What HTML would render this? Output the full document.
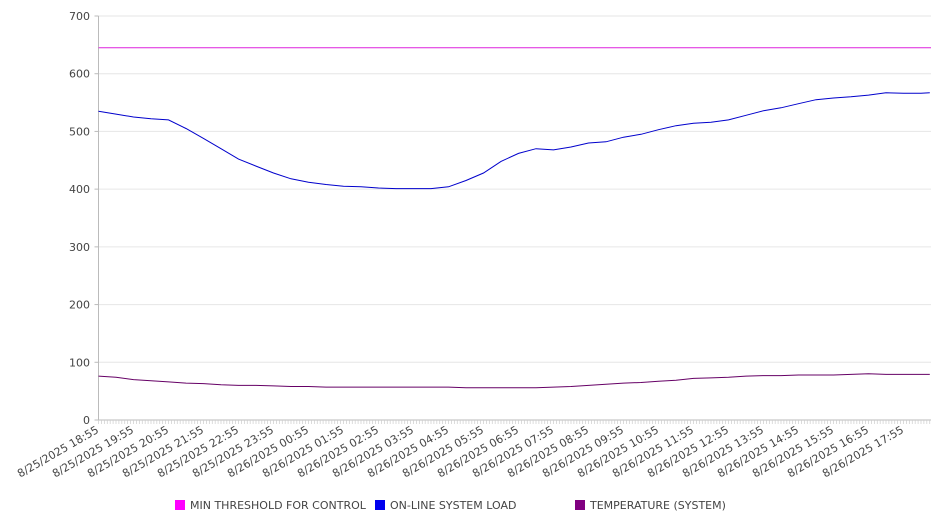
<!DOCTYPE html>
<html><head><meta charset="utf-8"><style>
body{margin:0;background:#fff;font-family:"DejaVu Sans","Liberation Sans",sans-serif;}
svg text{font-family:"DejaVu Sans","Liberation Sans",sans-serif;fill:#444;}
</style></head><body>
<svg id="chart" width="946" height="526" xmlns="http://www.w3.org/2000/svg"></svg>
<script>
const hourLabels=["8/25/2025 18:55","8/25/2025 19:55","8/25/2025 20:55","8/25/2025 21:55","8/25/2025 22:55","8/25/2025 23:55","8/26/2025 00:55","8/26/2025 01:55","8/26/2025 02:55","8/26/2025 03:55","8/26/2025 04:55","8/26/2025 05:55","8/26/2025 06:55","8/26/2025 07:55","8/26/2025 08:55","8/26/2025 09:55","8/26/2025 10:55","8/26/2025 11:55","8/26/2025 12:55","8/26/2025 13:55","8/26/2025 14:55","8/26/2025 15:55","8/26/2025 16:55","8/26/2025 17:55"];
const yTicks=[0,100,200,300,400,500,600,700];
const sampleHours=[0,0.5,1,1.5,2,2.5,3,3.5,4,4.5,5,5.5,6,6.5,7,7.5,8,8.5,9,9.5,10,10.5,11,11.5,12,12.5,13,13.5,14,14.5,15,15.5,16,16.5,17,17.5,18,18.5,19,19.5,20,20.5,21,21.5,22,22.5,23,23.5,23.75];
const loadValues=[535,530,525,522,520,505,488,470,452,440,428,418,412,408,405,404,402,401,401,401,404,415,428,448,462,470,468,473,480,482,490,495,503,510,514,516,520,528,536,541,548,555,558,560,563,567,566,566,567];
const tempValues=[76,74,70,68,66,64,63,61,60,60,59,58,58,57,57,57,57,57,57,57,57,56,56,56,56,56,57,58,60,62,64,65,67,69,72,73,74,76,77,77,78,78,78,79,80,79,79,79,79];
const thresholdValue=645;
const legendNames=["MIN THRESHOLD FOR CONTROL","ON-LINE SYSTEM LOAD","TEMPERATURE (SYSTEM)"];
const legendColors=["#ff00ff","#0000ee","#800080"];
const lineColors=["#dd22dd","#0000cc","#660066"];

const svg=document.getElementById('chart');
const NS="http://www.w3.org/2000/svg";
const X0=98.5,X1=931,Y0=420,Y1=16,PXH=35;
const xs=h=>X0+h*PXH;
const ys=v=>Y0-(v/700)*(Y0-Y1);
function mk(t,a){const e=document.createElementNS(NS,t);for(const k in a)e.setAttribute(k,a[k]);svg.appendChild(e);return e;}

yTicks.forEach(v=>{
  const g=mk('line',{x1:X0,x2:X1,y1:ys(v),y2:ys(v),stroke:'#e6e6e6','stroke-width':1});
  
  
  const t=mk('text',{x:90,y:ys(v)+4,'text-anchor':'end','font-size':11});
  t.textContent=v;
  
  
  mk('line',{x1:X0-4,x2:X0,y1:ys(v),y2:ys(v),stroke:'#bbb'});
});
const ax=mk('line',{x1:X0,x2:X0,y1:Y1,y2:Y0,stroke:'#bbb'});


const bx=mk('line',{x1:X0,x2:X1,y1:Y0,y2:Y0,stroke:'#bbb'});


for(let m=0;m*5/60<=23.75;m++){mk('line',{x1:xs(m*5/60),x2:xs(m*5/60),y1:Y0,y2:Y0+4,stroke:'#ccc','stroke-width':0.7});}
hourLabels.forEach((l,i)=>{
  const x=xs(i)+1,y=Y0+12;
  const t=mk('text',{x:x,y:y,'text-anchor':'end','font-size':11,transform:`rotate(-30 ${x} ${y})`});
  t.textContent=l;
  
  
});
const th=mk('line',{x1:X0,x2:X1,y1:ys(thresholdValue),y2:ys(thresholdValue),stroke:lineColors[0],'stroke-width':1});


function path(vals,col,name){
  const d=vals.map((v,i)=>(i?'L':'M')+xs(sampleHours[i]).toFixed(1)+' '+ys(v).toFixed(1)).join(' ');
  const p=mk('path',{d:d,fill:'none',stroke:col,'stroke-width':1});
  
  
}
path(loadValues,lineColors[1],'online-system-load-line');
path(tempValues,lineColors[2],'temperature-line');
const lx=[175,375,575];
legendNames.forEach((n,i)=>{
  const r=mk('rect',{x:lx[i],y:500,width:10,height:10,fill:legendColors[i]});
  
  
  const t=mk('text',{x:lx[i]+15,y:509,'font-size':11});
  t.textContent=n;
  
  
});
</script>
</body></html>
